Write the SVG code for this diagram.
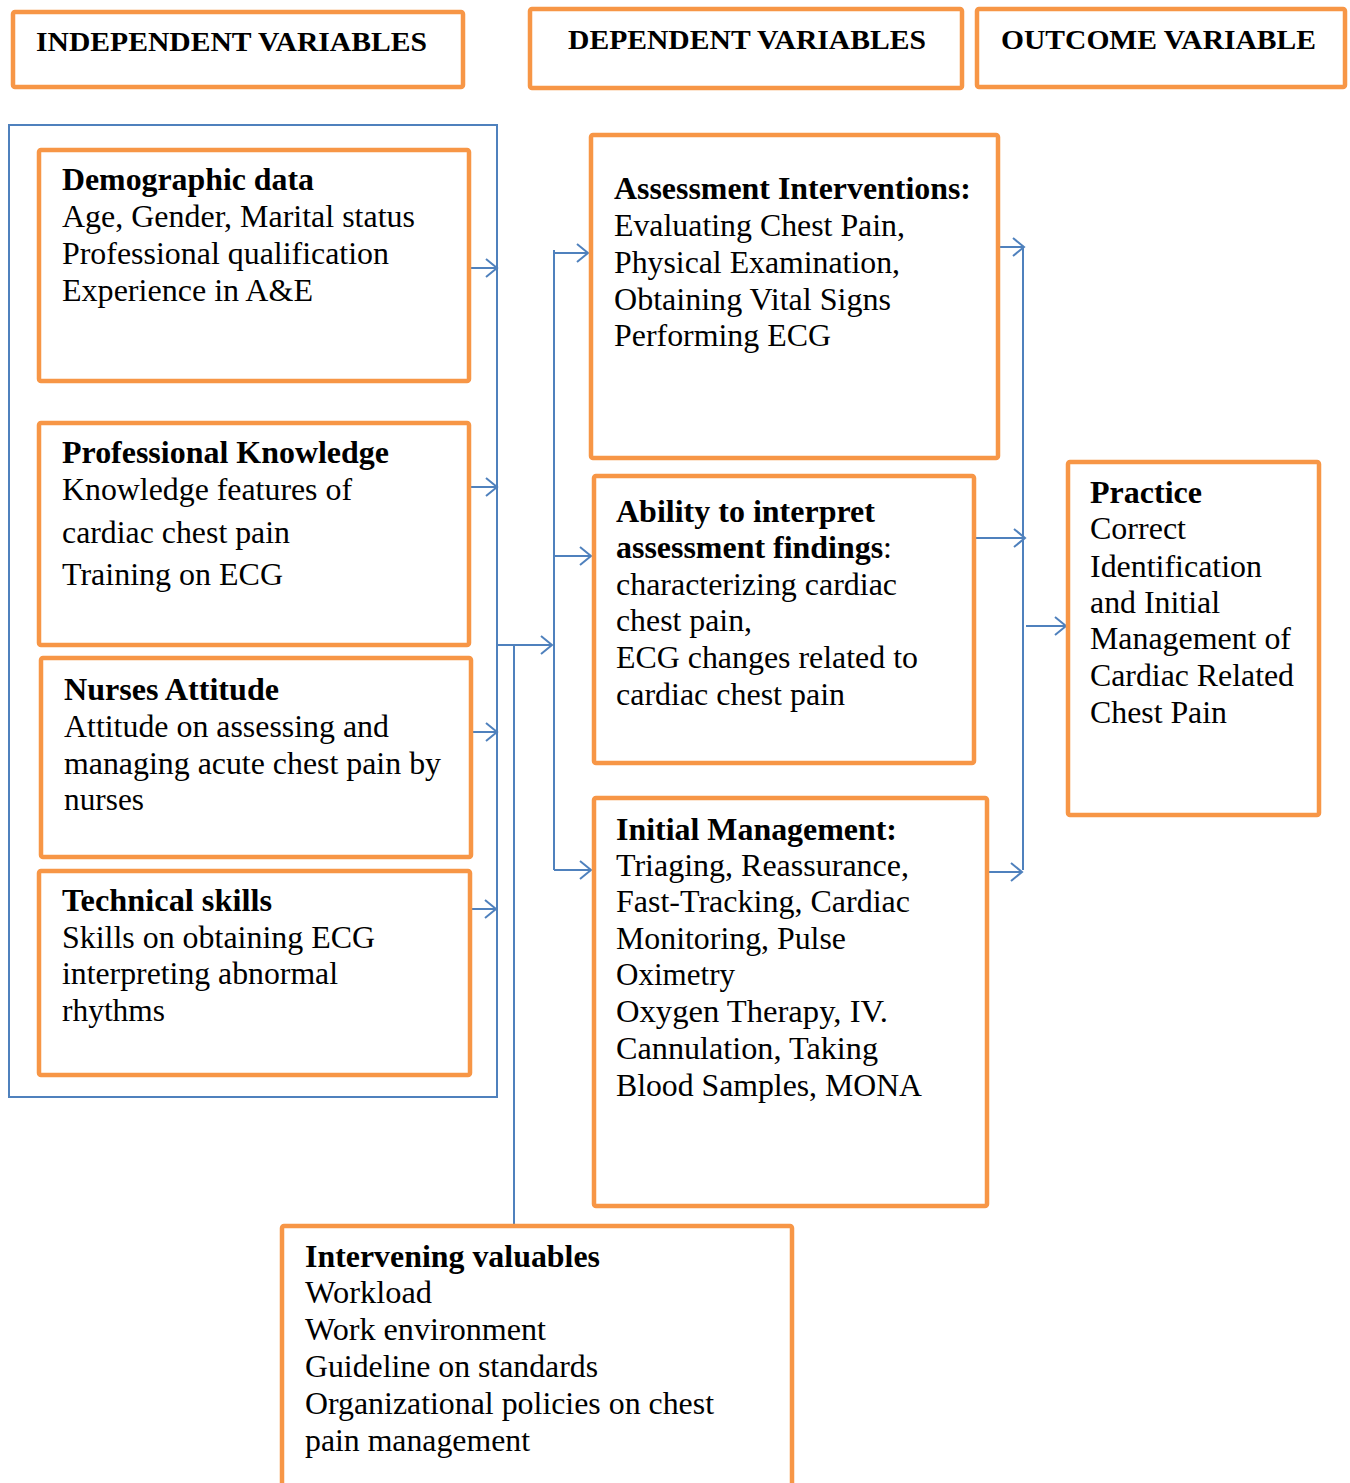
<svg xmlns="http://www.w3.org/2000/svg" width="1350" height="1483" viewBox="0 0 1350 1483">
<defs>
<style>
.box{fill:#fff;stroke:#F79646;stroke-width:4.5;stroke-linejoin:round}
.ln{fill:none;stroke:#4F81BD;stroke-width:2}
.t{font-family:"Liberation Serif","Times New Roman",serif;font-size:31px;fill:#000}
.b{font-weight:bold}
.h{font-family:"Liberation Serif","Times New Roman",serif;font-size:27px;font-weight:bold;fill:#000}
</style>
<marker id="arr" markerUnits="userSpaceOnUse" markerWidth="16" markerHeight="22" viewBox="0 0 16 22" refX="14" refY="11" orient="auto">
<path d="M3,2 L14,11 L3,20" fill="none" stroke="#4F81BD" stroke-width="2"/>
</marker>
</defs>
<rect width="1350" height="1483" fill="#fff"/>

<g id="connectors">
<rect class="ln" x="9" y="125" width="488" height="972"/>
<line class="ln" x1="468" y1="268" x2="497" y2="268" marker-end="url(#arr)"/>
<line class="ln" x1="470" y1="487" x2="497" y2="487" marker-end="url(#arr)"/>
<line class="ln" x1="472" y1="732" x2="497" y2="732" marker-end="url(#arr)"/>
<line class="ln" x1="471" y1="909" x2="496" y2="909" marker-end="url(#arr)"/>
<line class="ln" x1="497" y1="645" x2="552" y2="645" marker-end="url(#arr)"/>
<line class="ln" x1="514" y1="645" x2="514" y2="1226"/>
<line class="ln" x1="554" y1="250" x2="554" y2="870"/>
<line class="ln" x1="554" y1="253" x2="588" y2="253" marker-end="url(#arr)"/>
<line class="ln" x1="554" y1="556" x2="591" y2="556" marker-end="url(#arr)"/>
<line class="ln" x1="554" y1="870" x2="591" y2="870" marker-end="url(#arr)"/>
<line class="ln" x1="993" y1="247" x2="1024" y2="247" marker-end="url(#arr)"/>
<line class="ln" x1="975" y1="538" x2="1025" y2="538" marker-end="url(#arr)"/>
<line class="ln" x1="988" y1="872" x2="1022" y2="872" marker-end="url(#arr)"/>
<line class="ln" x1="1023" y1="247" x2="1023" y2="870"/>
<line class="ln" x1="1026" y1="626" x2="1066" y2="626" marker-end="url(#arr)"/>
</g>

<g id="hdr-independent">
<rect class="box" x="13" y="12" width="450" height="75" rx="2"/>
<text class="h" x="36" y="51" textLength="391" lengthAdjust="spacingAndGlyphs">INDEPENDENT VARIABLES</text>
</g>
<g id="hdr-dependent">
<rect class="box" x="530" y="9" width="432" height="79" rx="2"/>
<text class="h" x="568" y="49" textLength="358" lengthAdjust="spacingAndGlyphs">DEPENDENT VARIABLES</text>
</g>
<g id="hdr-outcome">
<rect class="box" x="977" y="9" width="368" height="78" rx="2"/>
<text class="h" x="1001" y="49" textLength="315" lengthAdjust="spacingAndGlyphs">OUTCOME VARIABLE</text>
</g>

<g id="demographic">
<rect class="box" x="39" y="150" width="430" height="231" rx="2"/>
<text class="t b" x="62" y="190" textLength="252" lengthAdjust="spacingAndGlyphs">Demographic data</text>
<text class="t" x="62" y="227" textLength="353" lengthAdjust="spacingAndGlyphs">Age, Gender, Marital status</text>
<text class="t" x="62" y="264" textLength="327" lengthAdjust="spacingAndGlyphs">Professional qualification</text>
<text class="t" x="62" y="301" textLength="251" lengthAdjust="spacingAndGlyphs">Experience in A&amp;E</text>
</g>

<g id="professional">
<rect class="box" x="39" y="423" width="430" height="222" rx="2"/>
<text class="t b" x="62" y="463" textLength="327" lengthAdjust="spacingAndGlyphs">Professional Knowledge</text>
<text class="t" x="62" y="500" textLength="290" lengthAdjust="spacingAndGlyphs">Knowledge features of</text>
<text class="t" x="62" y="543" textLength="228" lengthAdjust="spacingAndGlyphs">cardiac chest pain</text>
<text class="t" x="62" y="585" textLength="221" lengthAdjust="spacingAndGlyphs">Training on ECG</text>
</g>

<g id="attitude">
<rect class="box" x="41" y="658" width="430" height="199" rx="2"/>
<text class="t b" x="64" y="700" textLength="215" lengthAdjust="spacingAndGlyphs">Nurses Attitude</text>
<text class="t" x="64" y="737" textLength="325" lengthAdjust="spacingAndGlyphs">Attitude on assessing and</text>
<text class="t" x="64" y="774" textLength="377" lengthAdjust="spacingAndGlyphs">managing acute chest pain by</text>
<text class="t" x="64" y="810" textLength="80" lengthAdjust="spacingAndGlyphs">nurses</text>
</g>

<g id="technical">
<rect class="box" x="39" y="871" width="431" height="204" rx="2"/>
<text class="t b" x="62" y="911" textLength="210" lengthAdjust="spacingAndGlyphs">Technical skills</text>
<text class="t" x="62" y="948" textLength="313" lengthAdjust="spacingAndGlyphs">Skills on obtaining ECG</text>
<text class="t" x="62" y="984" textLength="276" lengthAdjust="spacingAndGlyphs">interpreting abnormal</text>
<text class="t" x="62" y="1021" textLength="103" lengthAdjust="spacingAndGlyphs">rhythms</text>
</g>

<g id="assessment">
<rect class="box" x="591" y="135" width="407" height="323" rx="2"/>
<text class="t b" x="614" y="199" textLength="357" lengthAdjust="spacingAndGlyphs">Assessment Interventions:</text>
<text class="t" x="614" y="236" textLength="291" lengthAdjust="spacingAndGlyphs">Evaluating Chest Pain,</text>
<text class="t" x="614" y="273" textLength="286" lengthAdjust="spacingAndGlyphs">Physical Examination,</text>
<text class="t" x="614" y="310" textLength="277" lengthAdjust="spacingAndGlyphs">Obtaining Vital Signs</text>
<text class="t" x="614" y="346" textLength="217" lengthAdjust="spacingAndGlyphs">Performing ECG</text>
</g>

<g id="ability">
<rect class="box" x="594" y="476" width="380" height="287" rx="2"/>
<text class="t b" x="616" y="522" textLength="259" lengthAdjust="spacingAndGlyphs">Ability to interpret</text>
<text class="t" x="616" y="558" textLength="276" lengthAdjust="spacingAndGlyphs"><tspan class="b">assessment findings</tspan>:</text>
<text class="t" x="616" y="595" textLength="281" lengthAdjust="spacingAndGlyphs">characterizing cardiac</text>
<text class="t" x="616" y="631" textLength="136" lengthAdjust="spacingAndGlyphs">chest pain,</text>
<text class="t" x="616" y="668" textLength="302" lengthAdjust="spacingAndGlyphs">ECG changes related to</text>
<text class="t" x="616" y="705" textLength="229" lengthAdjust="spacingAndGlyphs">cardiac chest pain</text>
</g>

<g id="initial">
<rect class="box" x="594" y="798" width="393" height="408" rx="2"/>
<text class="t b" x="616" y="840" textLength="281" lengthAdjust="spacingAndGlyphs">Initial Management:</text>
<text class="t" x="616" y="876" textLength="293" lengthAdjust="spacingAndGlyphs">Triaging, Reassurance,</text>
<text class="t" x="616" y="912" textLength="294" lengthAdjust="spacingAndGlyphs">Fast-Tracking, Cardiac</text>
<text class="t" x="616" y="949" textLength="230" lengthAdjust="spacingAndGlyphs">Monitoring, Pulse</text>
<text class="t" x="616" y="985" textLength="119" lengthAdjust="spacingAndGlyphs">Oximetry</text>
<text class="t" x="616" y="1022" textLength="272" lengthAdjust="spacingAndGlyphs">Oxygen Therapy, IV.</text>
<text class="t" x="616" y="1059" textLength="262" lengthAdjust="spacingAndGlyphs">Cannulation, Taking</text>
<text class="t" x="616" y="1096" textLength="306" lengthAdjust="spacingAndGlyphs">Blood Samples, MONA</text>
</g>

<g id="practice">
<rect class="box" x="1068" y="462" width="251" height="353" rx="2"/>
<text class="t b" x="1090" y="503" textLength="112" lengthAdjust="spacingAndGlyphs">Practice</text>
<text class="t" x="1090" y="539" textLength="96" lengthAdjust="spacingAndGlyphs">Correct</text>
<text class="t" x="1090" y="577" textLength="172" lengthAdjust="spacingAndGlyphs">Identification</text>
<text class="t" x="1090" y="613" textLength="130" lengthAdjust="spacingAndGlyphs">and Initial</text>
<text class="t" x="1090" y="649" textLength="201" lengthAdjust="spacingAndGlyphs">Management of</text>
<text class="t" x="1090" y="686" textLength="204" lengthAdjust="spacingAndGlyphs">Cardiac Related</text>
<text class="t" x="1090" y="723" textLength="137" lengthAdjust="spacingAndGlyphs">Chest Pain</text>
</g>

<g id="intervening">
<rect class="box" x="282" y="1226" width="510" height="300" rx="2"/>
<text class="t b" x="305" y="1267" textLength="295" lengthAdjust="spacingAndGlyphs">Intervening valuables</text>
<text class="t" x="305" y="1303" textLength="127" lengthAdjust="spacingAndGlyphs">Workload</text>
<text class="t" x="305" y="1340" textLength="241" lengthAdjust="spacingAndGlyphs">Work environment</text>
<text class="t" x="305" y="1377" textLength="293" lengthAdjust="spacingAndGlyphs">Guideline on standards</text>
<text class="t" x="305" y="1414" textLength="409" lengthAdjust="spacingAndGlyphs">Organizational policies on chest</text>
<text class="t" x="305" y="1451" textLength="225" lengthAdjust="spacingAndGlyphs">pain management</text>
</g>
</svg>
